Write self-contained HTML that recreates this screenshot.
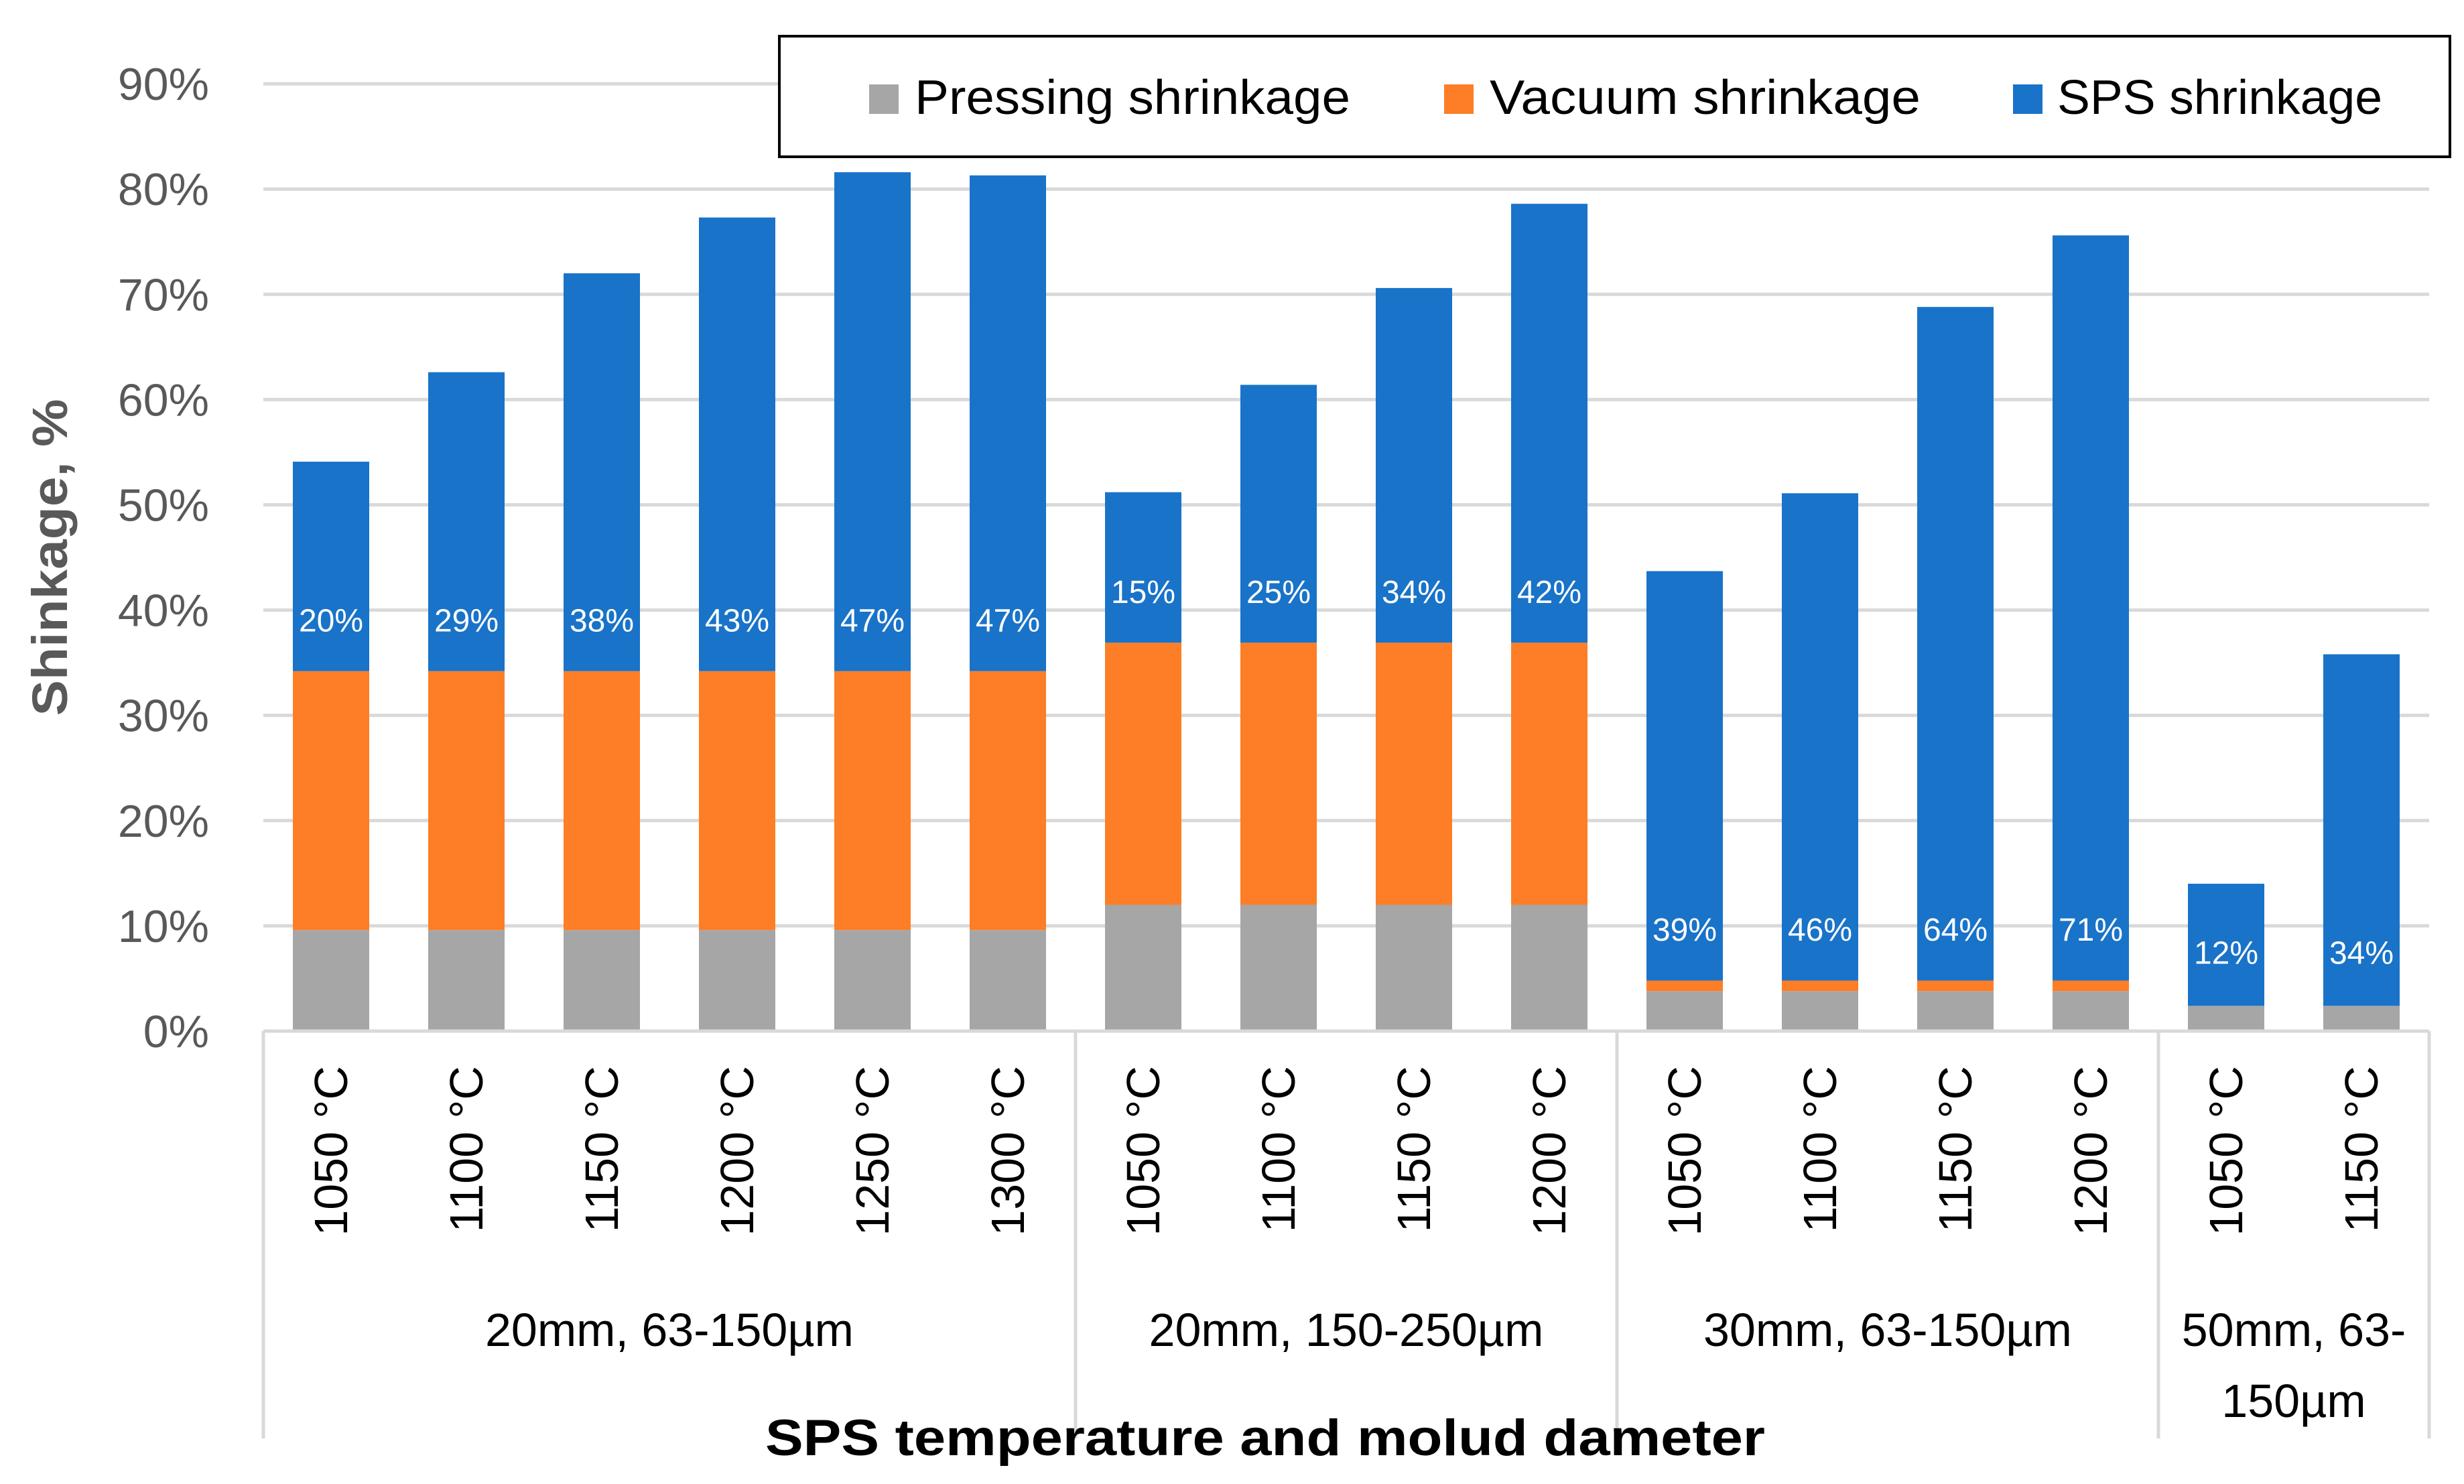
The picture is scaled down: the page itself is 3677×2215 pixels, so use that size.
<!DOCTYPE html>
<html><head><meta charset="utf-8"><style>
html,body{margin:0;padding:0;background:#fff;}
svg{display:block;}
</style></head><body>
<svg id="chart" width="3677" height="2215" viewBox="0 0 3677 2215" xmlns="http://www.w3.org/2000/svg" font-family="'Liberation Sans', 'DejaVu Sans', sans-serif">
<rect x="0" y="0" width="3677" height="2215" fill="#fff"/>
<g id="grid"></g>
<g id="bars"></g>
<g id="labels"></g>
<g id="yticks"></g>
<g id="xticks"></g>
<text transform="translate(100,832) rotate(-90)" text-anchor="middle" font-size="74" font-weight="bold" fill="#595959" textLength="473" lengthAdjust="spacingAndGlyphs">Shinkage, %</text>
<text x="1888" y="2172" text-anchor="middle" font-size="76" font-weight="bold" fill="#000" textLength="1492" lengthAdjust="spacingAndGlyphs">SPS temperature and molud dameter</text>
<g>
<rect x="1163" y="54" width="2493" height="180" fill="#fff" stroke="#000" stroke-width="4"/>
<rect x="1297" y="126" width="44" height="44" fill="#a6a6a6"/>
<text x="1365" y="170" font-size="72" fill="#000" textLength="650" lengthAdjust="spacingAndGlyphs">Pressing shrinkage</text>
<rect x="2155" y="126" width="44" height="44" fill="#fd7e26"/>
<text x="2223" y="170" font-size="72" fill="#000" textLength="643" lengthAdjust="spacingAndGlyphs">Vacuum shrinkage</text>
<rect x="3004" y="126" width="44" height="44" fill="#1973c8"/>
<text x="3070" y="170" font-size="72" fill="#000" textLength="485" lengthAdjust="spacingAndGlyphs">SPS shrinkage</text>
</g>
</svg>
<script>
const categories = ["1050 °C","1100 °C","1150 °C","1200 °C","1250 °C","1300 °C","1050 °C","1100 °C","1150 °C","1200 °C","1050 °C","1100 °C","1150 °C","1200 °C","1050 °C","1150 °C"];
const groups = ["20mm, 63-150µm","20mm, 150-250µm","30mm, 63-150µm","50mm, 63-150µm"];
const groupSizes = [6,4,4,2];
const pressing = [9.6,9.6,9.6,9.6,9.6,9.6,12.0,12.0,12.0,12.0,3.8,3.8,3.8,3.8,2.4,2.4];
const vacuum = [24.6,24.6,24.6,24.6,24.6,24.6,24.9,24.9,24.9,24.9,1.0,1.0,1.0,1.0,0,0];
const sps = [19.9,28.4,37.8,43.1,47.4,47.1,14.3,24.5,33.7,41.7,38.9,46.3,64.0,70.8,11.6,33.4];
const spsLabels = ["20%","29%","38%","43%","47%","47%","15%","25%","34%","42%","39%","46%","64%","71%","12%","34%"];
const labelPos = [39,39,39,39,39,39,41.7,41.7,41.7,41.7,9.6,9.6,9.6,9.6,7.4,7.4];
const yTicks = [0,10,20,30,40,50,60,70,80,90];

const NS="http://www.w3.org/2000/svg";
const X0=393, X1=3625, Y0=1539, PER10=157.1;
const catW=(X1-X0)/categories.length, barW=114;
const y=v=>Y0-v*PER10/10;
const xc=i=>X0+catW*(i+0.5);
function mk(tag,attrs,parent){const e=document.createElementNS(NS,tag);for(const k in attrs)e.setAttribute(k,attrs[k]);parent.appendChild(e);return e;}
const grid=document.getElementById('grid'),bars=document.getElementById('bars'),labels=document.getElementById('labels'),yt=document.getElementById('yticks'),xt=document.getElementById('xticks');
yTicks.forEach(t=>{
  if(t>0){const l=mk('line',{x1:X0,x2:X1,y1:y(t),y2:y(t),stroke:'#d9d9d9','stroke-width':5},grid);
  
  }
  const tx=mk('text',{x:312,y:y(t)+24,'text-anchor':'end','font-size':68,fill:'#595959'},yt);
  tx.textContent=t+'%';
  
  
});
const series=[[pressing,'#a6a6a6','pressing'],[vacuum,'#fd7e26','vacuum'],[sps,'#1973c8','sps']];
categories.forEach((c,i)=>{
  let base=0;
  series.forEach(([arr,col,nm])=>{
    const v=arr[i];
    if(v>0){const r=mk('rect',{x:xc(i)-barW/2,y:y(base+v),width:barW,height:y(base)-y(base+v),fill:col},bars);
    
    }
    base+=v;
  });
  const lb=mk('text',{x:xc(i),y:y(labelPos[i])+16,'text-anchor':'middle','font-size':48,fill:'#fff'},labels);
  lb.textContent=spsLabels[i];
  
  
  const ct=mk('text',{transform:`translate(${xc(i)+24},1591) rotate(-90)`,'text-anchor':'end','font-size':70,fill:'#000'},xt);
  ct.textContent=c;
  
  
});
const ax=mk('line',{x1:X0,x2:X1,y1:Y0,y2:Y0,stroke:'#d9d9d9','stroke-width':5},xt);


let start=0;
const bounds=[0];
groupSizes.forEach(n=>{start+=n;bounds.push(start);});
bounds.forEach(b=>{
  const l=mk('line',{x1:X0+b*catW,x2:X0+b*catW,y1:Y0,y2:2147,stroke:'#d9d9d9','stroke-width':5},xt);
  
  
});
groups.forEach((g,k)=>{
  const cx=X0+catW*(bounds[k]+bounds[k+1])/2;
  const t=mk('text',{x:cx,'text-anchor':'middle','font-size':70,fill:'#000'},xt);
  
  
  if(groupSizes[k]<=2){
    const p=g.split('63-');
    const a=mk('tspan',{x:cx,y:2009},t);a.textContent=p[0]+'63-';
    const b=mk('tspan',{x:cx,y:2115},t);b.textContent=p[1];
  } else {t.setAttribute('y',2009);t.textContent=g;}
});
</script>
</body></html>
